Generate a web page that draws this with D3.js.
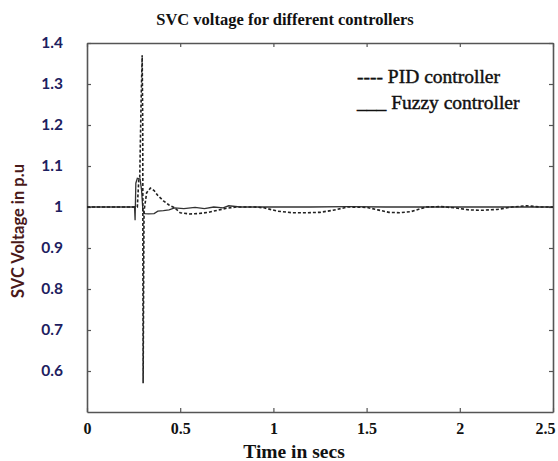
<!DOCTYPE html>
<html><head><meta charset="utf-8">
<script src="https://cdn.jsdelivr.net/npm/d3@7"></script>
<style>body{margin:0;background:#fff}svg{display:block}</style>
</head><body><div id="chart"></div>
<script>
const xTicks = [0, 0.5, 1, 1.5, 2, 2.5];
const xTickLabels = ["0", "0.5", "1", "1.5", "2", "2.5"];
const yTicks = [0.6, 0.7, 0.8, 0.9, 1, 1.1, 1.2, 1.3, 1.4];
const yTickLabels = ["0.6", "0.7", "0.8", "0.9", "1", "1.1", "1.2", "1.3", "1.4"];

const pidTime  = [0, 0.27, 0.278, 0.283, 0.29, 0.296, 0.299, 0.301, 0.306, 0.32, 0.34, 0.36, 0.38, 0.41, 0.44, 0.47, 0.5, 0.55, 0.6, 0.65, 0.7, 0.75, 0.8, 0.9, 0.95, 1.02, 1.1, 1.18, 1.25, 1.32, 1.4, 1.5, 1.56, 1.62, 1.68, 1.74, 1.82, 1.9, 1.97, 2.05, 2.12, 2.2, 2.28, 2.36, 2.43, 2.5];
const pidValue = [1.0, 1.0, 1.068, 1.072, 1.25, 1.37, 1.2, 0.57, 0.99, 1.035, 1.046, 1.04, 1.028, 1.015, 1.005, 0.998, 0.986, 0.983, 0.984, 0.987, 0.992, 0.997, 1.0, 1.0, 0.998, 0.99, 0.986, 0.986, 0.987, 0.992, 1.0, 0.999, 0.993, 0.987, 0.986, 0.989, 1.0, 1.001, 0.998, 0.993, 0.992, 0.994, 1.0, 1.003, 1.0, 1.0];

const fuzzyTime  = [0, 0.255, 0.258, 0.262, 0.27, 0.285, 0.293, 0.3, 0.31, 0.33, 0.36, 0.38, 0.41, 0.44, 0.47, 0.52, 0.58, 0.63, 0.68, 0.73, 0.76, 0.82, 0.9, 1.0, 1.2, 1.4, 1.6, 1.8, 2.0, 2.2, 2.4, 2.5];
const fuzzyValue = [1.0, 1.0, 0.968, 1.058, 1.07, 1.068, 1.04, 0.99, 0.984, 0.983, 0.984, 0.99, 0.991, 0.993, 0.998, 0.996, 0.999, 0.996, 1.0, 0.998, 1.003, 1.0, 1.0, 1.0, 1.0, 1.001, 1.0, 1.0, 1.0, 1.0, 1.0, 1.0];

const legendLabels = ["---- PID controller", "___ Fuzzy controller"];

const W = 558, H = 461;
const m = {left: 87, right: 5, top: 43, bottom: 49};
const svg = d3.select("#chart").append("svg").attr("width", W).attr("height", H);
const x = d3.scaleLinear().domain([0, 2.5]).range([m.left, W - m.right]);
const y = d3.scaleLinear().domain([0.5, 1.4]).range([H - m.bottom, m.top]);

const axisColor = "#555";
const gx = svg.append("g").attr("transform", `translate(0,${H - m.bottom})`)
  .call(d3.axisBottom(x).tickValues(xTicks).tickSize(-4).tickSizeOuter(0).tickFormat((d,i)=>xTickLabels[i]).tickPadding(11));
const gxt = svg.append("g").attr("transform", `translate(0,${m.top})`)
  .call(d3.axisTop(x).tickValues(xTicks).tickSize(-4).tickSizeOuter(0).tickFormat(""));
const gy = svg.append("g").attr("transform", `translate(${m.left},0)`)
  .call(d3.axisLeft(y).tickValues(yTicks).tickSize(-4).tickSizeOuter(0).tickFormat((d,i)=>yTickLabels[i]).tickPadding(24));
const gyr = svg.append("g").attr("transform", `translate(${W - m.right},0)`)
  .call(d3.axisRight(y).tickValues(yTicks).tickSize(-4).tickSizeOuter(0).tickFormat(""));
[gx, gxt, gy, gyr].forEach(g => {
  g.selectAll(".domain").attr("stroke", axisColor).attr("stroke-width", 1.6);
  g.selectAll(".tick line").attr("stroke", axisColor).attr("stroke-width", 1.2);
});
gx.selectAll("text").attr("font-family", "Liberation Serif, serif").attr("font-weight", "bold")
  .attr("font-size", 16).attr("fill", "#111")
  .attr("dx", (d, i) => i === xTicks.length - 1 ? -8 : 0);
gy.selectAll("text").attr("font-family", "Lato, 'Open Sans', sans-serif").attr("font-weight", "bold")
  .attr("font-size", 15.5).attr("fill", "#1d2060");

const line = d3.line().x(d => x(d[0])).y(d => y(d[1]));
const pidData = pidTime.map((t, i) => [t, pidValue[i]]);
const fuzzyData = fuzzyTime.map((t, i) => [t, fuzzyValue[i]]);
svg.append("path").datum(fuzzyData).attr("d", line).attr("fill", "none")
  .attr("stroke", "#333").attr("stroke-width", 1.3);
svg.append("path").datum(pidData).attr("d", line).attr("fill", "none")
  .attr("stroke", "#222").attr("stroke-width", 1.6).attr("stroke-dasharray", "3,2");

svg.append("text").attr("x", 285).attr("y", 25).attr("text-anchor", "middle")
  .attr("font-family", "Liberation Serif, serif").attr("font-weight", "bold").attr("font-size", 16.5)
  .attr("fill", "#111").text("SVC voltage for different controllers");

svg.append("text").attr("x", 294).attr("y", 458).attr("text-anchor", "middle")
  .attr("font-family", "Liberation Serif, serif").attr("font-weight", "bold").attr("font-size", 19.5)
  .attr("fill", "#111").text("Time in secs");
svg.append("text").attr("transform", "translate(24,231) rotate(-90)").attr("text-anchor", "middle")
  .attr("font-family", "Lato, 'Open Sans', sans-serif").attr("font-weight", "bold").attr("font-size", 16.5)
  .attr("fill", "#4a1a1a").text("SVC Voltage in p.u");

const leg = svg.append("g").attr("font-family", "Liberation Serif, serif").attr("font-size", 19.5)
  .attr("fill", "#111").attr("stroke", "#111").attr("stroke-width", 0.45);
leg.selectAll("text").data(legendLabels).join("text")
  .attr("x", 357).attr("y", (d, i) => 83 + i * 26).text(d => d);
</script></body></html>
